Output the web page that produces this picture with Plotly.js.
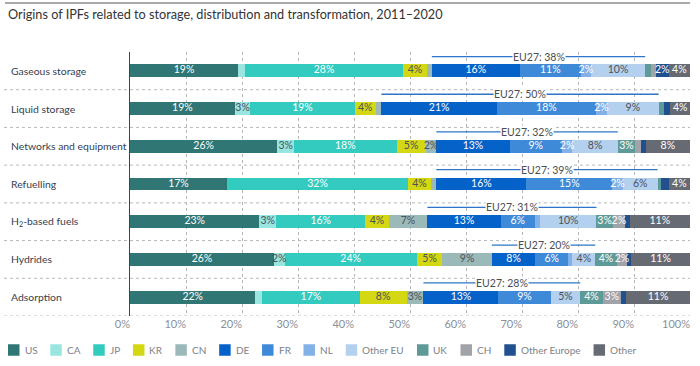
<!DOCTYPE html>
<html><head><meta charset="utf-8">
<script src="https://cdn.plot.ly/plotly-3.0.1.min.js"></script>
<style>html,body{margin:0;padding:0;background:#fff}#chart{width:700px;height:366px}</style>
</head><body><div id="chart"></div>
<script>
// ---- data (percent shares) ----
const categories = ["Gaseous storage","Liquid storage","Networks and equipment","Refuelling","H<sub>2</sub>-based fuels","Hydrides","Adsorption"];
const US          = [19.3,18.7,26.3,17.3,23.1,25.7,22.4];
const CA          = [1.2, 2.8, 3.0, 0,   3.0, 1.9, 1.2];
const JP          = [28.3,18.6,18.3,32.4,15.9,23.6,17.4];
const KR          = [4.2, 3.8, 5.2, 4.0, 4.2, 4.6, 8.4];
const CN          = [0.9, 1.0, 1.9, 1.0, 6.9, 8.8, 3.0];
const DE          = [15.7,20.6,13.1,16.1,13.1,7.8,13.4];
const FR          = [10.9,17.7,9.3, 15.3,6.1, 5.8, 9.3];
const NL          = [1.8, 2.0, 1.9, 1.9, 0.9, 0.8, 0];
const OtherEU     = [9.7, 9.2, 8.1, 6.2, 10.1,4.1, 5.3];
const UK          = [1.0, 1.0, 3.1, 0.7, 2.9, 3.8, 4.0];
const CH          = [0.9, 0,   1.0, 0,   2.2, 1.9, 3.3];
const OtherEurope = [2.3, 1.1, 0.9, 1.3, 0.8, 0.7, 0.9];
const Other       = [3.8, 3.5, 7.9, 3.8, 10.8,10.5,11.4];
const eu27        = [38, 50, 32, 39, 31, 20, 28];
const seriesNames = ["US","CA","JP","KR","CN","DE","FR","NL","Other EU","UK","CH","Other Europe","Other"];
const seriesData  = [US,CA,JP,KR,CN,DE,FR,NL,OtherEU,UK,CH,OtherEurope,Other];
const euSeries    = ["DE","FR","NL","Other EU"];
const xTicks      = [0,10,20,30,40,50,60,70,80,90,100];

// ---- styles ----
const FONT = 'Lato, "Open Sans", sans-serif';
const colors = ["#2f7674","#99e5df","#33cbbf","#d4d813","#9bb9b9","#0562c9","#3f8ad8","#82b1e8","#b4d0ef","#5e9a97","#a1a3a9","#20508f","#666a73"];
const darkText = {"CA":1,"KR":1,"CN":1,"Other EU":1};
const L = 130, R = 10, T = 52, B = 50, W = 700, H = 366;
const PW = W - L - R, PH = H - T - B;
const px2x = p => (p - L) / PW;
const py2y = p => (H - B - p) / PH;

// stacked bars
const traces = seriesNames.map((name, i) => ({
  type: 'bar', orientation: 'h', name: name,
  x: seriesData[i], y: categories,
  width: 0.34,
  marker: {color: colors[i], line: {width: 0}},
  hoverinfo: 'skip', showlegend: false
}));

// value labels centred on each segment (only segments of about 2% or more carry a label)
seriesNames.forEach((name, i) => {
  const xs = [], ys = [], ts = [];
  categories.forEach((c, r) => {
    const v = seriesData[i][r];
    if (v < 1.5) return;
    let s = 0;
    for (let k = 0; k < i; k++) s += seriesData[k][r];
    xs.push(s + v / 2); ys.push(c); ts.push(Math.round(v) + '%');
  });
  if (!xs.length) return;
  traces.push({
    type: 'scatter', mode: 'text', x: xs, y: ys, text: ts,
    textposition: 'middle center',
    textfont: {family: FONT, size: 10.5, color: darkText[name] ? '#4d5158' : '#ffffff'},
    hoverinfo: 'skip', showlegend: false, cliponaxis: false
  });
});

const shapes = [];
const annotations = [];

// top rule
shapes.push({type:'line', xref:'paper', yref:'paper', x0:px2x(5), x1:px2x(690), y0:py2y(3), y1:py2y(3), line:{color:'#555', width:1}});

// row separators and category labels
categories.forEach((c, i) => {
  shapes.push({type:'line', xref:'paper', yref:'y', x0:px2x(4), x1:1, y0:i+0.5, y1:i+0.5, line:{color:'#b8b8b8', width:1, dash:'dot'}});
  annotations.push({xref:'paper', yref:'y', x:px2x(9), y:i, text:c, showarrow:false, xanchor:'left', yanchor:'middle', font:{family:FONT, size:10.4, color:'#34404f'}});
});

// EU27 brackets
const iDE = seriesNames.indexOf(euSeries[0]);
const iEnd = seriesNames.indexOf(euSeries[euSeries.length-1]);
categories.forEach((c, r) => {
  let start = 0;
  for (let k = 0; k < iDE; k++) start += seriesData[k][r];
  let end = start;
  for (let k = iDE; k <= iEnd; k++) end += seriesData[k][r];
  const yy = r - 0.38;
  shapes.push({type:'line', xref:'x', yref:'y', x0:start, x1:end, y0:yy, y1:yy, line:{color:'#2f74c9', width:1.3}});
  annotations.push({xref:'x', yref:'y', x:(start+end)/2, y:yy, text:'EU27: ' + eu27[r] + '%', showarrow:false, bgcolor:'#ffffff', borderpad:0, xanchor:'center', yanchor:'middle', font:{family:FONT, size:10.5, color:'#4a4d52'}});
});

// custom legend
const LEG_SIZE = 10;
const ctx = document.createElement('canvas').getContext('2d');
ctx.font = LEG_SIZE + 'px Lato';
let lx = 8;
const ly = 350;
seriesNames.forEach((name, i) => {
  shapes.push({type:'rect', xref:'paper', yref:'paper', x0:px2x(lx), x1:px2x(lx+11.5), y0:py2y(ly+5.75), y1:py2y(ly-5.75), fillcolor:colors[i], line:{width:0}});
  annotations.push({xref:'paper', yref:'paper', x:px2x(lx+15.5), y:py2y(ly), text:name, showarrow:false, xanchor:'left', yanchor:'middle', borderpad:0, font:{family:FONT, size:LEG_SIZE, color:'#7d828a'}});
  lx += 15.5 + ctx.measureText(name).width + 14;
});

const layout = {
  width: W, height: H,
  margin: {l:L, r:R, t:T, b:B},
  paper_bgcolor: '#ffffff', plot_bgcolor: '#ffffff',
  barmode: 'stack', showlegend: false,
  font: {family: FONT},
  title: {text:'Origins of IPFs related to storage, distribution and transformation, 2011–2020', x:8/W, xanchor:'left', xref:'container', y:1-15/H, yanchor:'middle', yref:'container', font:{family:FONT, size:12.7, color:'#333333'}},
  xaxis: {range:[0,100], tickvals:xTicks, ticktext:xTicks.map(v => v + '%'), showgrid:true, gridcolor:'#b5b5b5', griddash:'dot', gridwidth:1, zeroline:false, showline:false, ticks:'', ticklabelposition:'outside left', tickfont:{family:FONT, size:11, color:'#8a8f98'}, fixedrange:true},
  yaxis: {type:'category', categoryarray:categories, range:[6.5,-0.5], showticklabels:false, showgrid:false, zeroline:false, showline:true, linecolor:'#444', linewidth:1, ticks:'', fixedrange:true},
  shapes: shapes, annotations: annotations
};

Plotly.newPlot('chart', traces, layout, {displayModeBar:false, staticPlot:true}).then(gd => {
  // drop empty placeholder text nodes left by the library
  gd.querySelectorAll('text').forEach(t => { if (!t.textContent.trim()) t.remove(); });
});
</script></body></html>
